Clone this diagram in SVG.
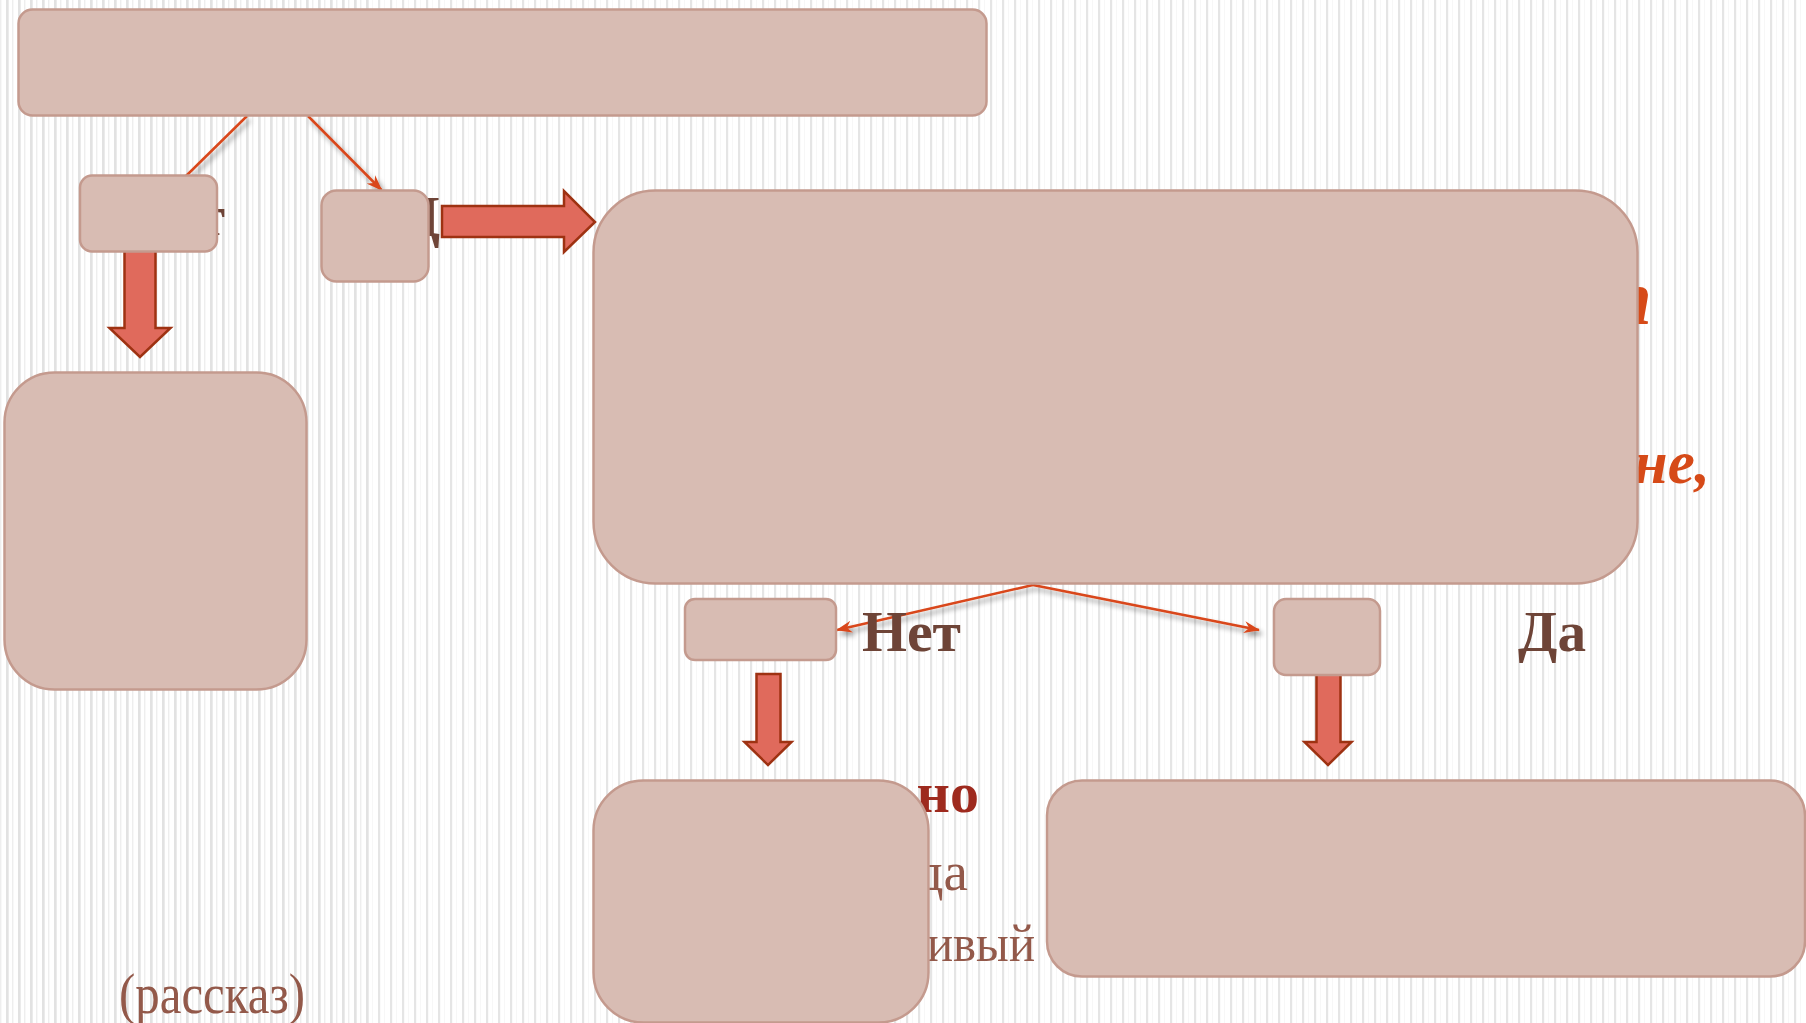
<svg xmlns="http://www.w3.org/2000/svg" width="1806" height="1023" viewBox="0 0 1806 1023">
<defs>
<pattern id="stripes" x="6" y="0" width="12" height="20" patternUnits="userSpaceOnUse">
<rect x="0" y="0" width="2.2" height="20" fill="#E5E5E5"/>
<rect x="6" y="0" width="1" height="20" fill="#F7F7F7"/>
</pattern>
<pattern id="stripesL" x="6" y="0" width="12" height="20" patternUnits="userSpaceOnUse">
<rect x="0" y="0" width="2.6" height="20" fill="#E2E2E2"/>
<rect x="6" y="0" width="1.4" height="20" fill="#EEEEEE"/>
</pattern>
<filter id="shadow" x="-20%" y="-20%" width="140%" height="160%">
<feDropShadow dx="3" dy="4" stdDeviation="2.5" flood-color="#000" flood-opacity="0.4"/>
</filter>
<marker id="head" markerUnits="userSpaceOnUse" markerWidth="16" markerHeight="12" viewBox="0 0 16 12" refX="15" refY="6" orient="auto">
<path d="M0,0 L16,6 L0,12 L5,6 z" fill="#D9471A"/>
</marker>
<style>
.box{fill:#D8BCB3;stroke:#C49A8E;stroke-width:2.5}
.blk{fill:#E06A5C;stroke:#9E3212;stroke-width:2.5;stroke-linejoin:miter}
.con{fill:none;stroke:#D9471A;stroke-width:2.5;filter:url(#shadow)}
.serif{font-family:"Liberation Serif","Times New Roman",serif}
.dark{fill:#6E4437;font-weight:bold}
.orange{fill:#D64A18;font-weight:bold;font-style:italic}
.red{fill:#9E2A1E;font-weight:bold}
.brown{fill:#93594A}
</style>
</defs>
<rect x="0" y="0" width="1806" height="1023" fill="#FFFFFF"/>
<rect x="0" y="0" width="1806" height="1023" fill="url(#stripes)"/>
<rect x="0" y="0" width="372" height="1023" fill="url(#stripesL)"/>

<g id="hidden-text" class="serif">
<text x="225" y="235" class="dark" font-size="56" text-anchor="end">т</text>
<text x="440" y="236" class="dark" font-size="56" text-anchor="end">Д</text>
<text x="1652" y="324" class="orange" font-size="78" text-anchor="end">п</text>
<text x="1710" y="483" class="orange" font-size="61" text-anchor="end">не,</text>
<text x="979" y="812" class="red" font-size="58" text-anchor="end">но</text>
<text x="968" y="890" class="brown" font-size="55" text-anchor="end">да</text>
<text x="1035" y="961" class="brown" font-size="53" text-anchor="end" textLength="108" lengthAdjust="spacingAndGlyphs">ивый</text>
</g>

<g id="connectors">
<line class="con" x1="247" y1="116" x2="186" y2="176"/>
<line class="con" x1="308" y1="116" x2="381.5" y2="190" marker-end="url(#head)"/>
<line class="con" x1="1033" y1="585" x2="837" y2="630" marker-end="url(#head)"/>
<line class="con" x1="1033" y1="585" x2="1259" y2="630" marker-end="url(#head)"/>
<polygon class="blk" points="442,206 564,206 564,191 595,222 564,252 564,237 442,237"/>
<polygon class="blk" points="124.5,248 155.5,248 155.5,328 170.5,328 140,357 109.5,328 124.5,328"/>
<polygon class="blk" points="756.5,674 780.5,674 780.5,742 791.5,742 768,765 744.5,742 756.5,742"/>
<polygon class="blk" points="1316.5,672 1340.5,672 1340.5,742 1351.5,742 1328,765 1304.5,742 1316.5,742"/>
</g>

<g id="node-top"><rect class="box" x="18.5" y="9.5" width="968" height="106" rx="14"/></g>
<g id="node-small1"><rect class="box" x="80" y="175.5" width="137" height="76" rx="12"/></g>
<g id="node-small2"><rect class="box" x="321.5" y="190.5" width="107" height="91" rx="15"/></g>
<g id="node-big"><rect class="box" x="593.5" y="190.5" width="1044" height="393" rx="62"/></g>
<g id="node-left"><rect class="box" x="4.5" y="372.5" width="302" height="317" rx="50"/></g>
<g id="node-no"><rect class="box" x="685" y="599" width="151" height="61" rx="10"/></g>
<g id="node-yes"><rect class="box" x="1274" y="599" width="106" height="76" rx="12"/></g>
<g id="node-bottom-left"><rect class="box" x="593.5" y="780.5" width="335" height="242" rx="50"/></g>
<g id="node-bottom-right"><rect class="box" x="1047" y="780.5" width="758" height="196" rx="35"/></g>

<g id="labels" class="serif">
<text x="862" y="651" class="dark" font-size="57" textLength="99" lengthAdjust="spacingAndGlyphs">Нет</text>
<text x="1518" y="651" class="dark" font-size="57" textLength="68" lengthAdjust="spacingAndGlyphs">Да</text>
<text x="119" y="1013" class="brown" font-size="56" textLength="186" lengthAdjust="spacingAndGlyphs">(рассказ)</text>
</g>
</svg>
